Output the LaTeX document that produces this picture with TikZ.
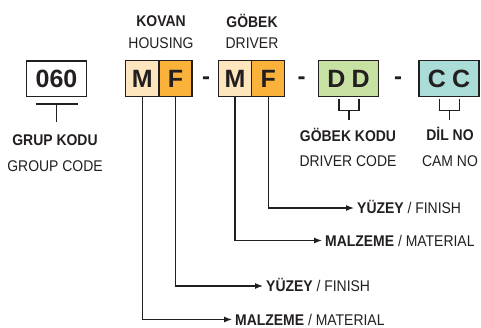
\documentclass[tikz,border=0pt]{standalone}
\usepackage{fontspec}
\setmainfont{Liberation Sans}[FakeStretch=0.9]
\newfontfamily\boxfont{Liberation Sans}
\usetikzlibrary{arrows.meta,calc}
\definecolor{lightor}{HTML}{FDE6BE}
\definecolor{darkor}{HTML}{FBB23A}
\definecolor{lgreen}{HTML}{C7E1A2}
\definecolor{lteal}{HTML}{AADCD8}
\definecolor{ink}{HTML}{231F20}
\begin{document}
\begin{tikzpicture}[x=1pt,y=-1pt,
  codebox/.style={draw=ink,line width=1.1pt,minimum height=35.5pt,inner sep=0pt,
     font=\boxfont\fontsize{25}{27}\selectfont\bfseries,text=ink},
  dashsym/.style={font=\boxfont\fontsize{24}{26}\selectfont\bfseries,text=ink,inner sep=0pt},
  lbl/.style={font=\fontsize{15.5}{17}\selectfont,text=ink,inner sep=0pt},
  blbl/.style={font=\fontsize{15.5}{17}\selectfont\bfseries,text=ink,inner sep=0pt},
  outlbl/.style={font=\fontsize{15.5}{17}\selectfont,text=ink,inner sep=0pt,anchor=base west},
  conn/.style={draw=ink,line width=1.1pt},
  arr/.style={conn,-{Latex[length=8pt,width=6pt]}}
]
\useasboundingbox (0,0) rectangle (481,327);
% boxes
\node[codebox,fill=white,minimum width=59.6pt] (grp) at (56.5,78.7) {060};
\node[codebox,fill=lightor,minimum width=33.3pt] (m1) at (142.3,78.5) {M};
\node[codebox,fill=darkor,minimum width=33pt] (f1) at (175.5,78.5) {F};
\node[dashsym] (d1) at (206,81) {-};
\node[codebox,fill=lightor,minimum width=33.5pt] (m2) at (235,78.5) {M};
\node[codebox,fill=darkor,minimum width=33pt] (f2) at (268.2,78.5) {F};
\node[dashsym] (d2) at (301.7,81) {-};
\node[codebox,fill=lgreen,minimum width=59.6pt] (dd) at (348.5,78.5) {D\hspace{6pt}D};
\node[dashsym] (d3) at (398,81) {-};
\node[codebox,fill=lteal,minimum width=60pt] (cc) at (449,78.5) {C\hspace{6pt}C};
% top labels
\node[blbl] (kovan) at (161,21) {KOVAN};
\node[lbl] (housing) at (161,43) {HOUSING};
\node[blbl] (gobek) at (252,21) {GÖBEK};
\node[lbl] (driver) at (252,43) {DRIVER};
% bottom labels
\node[blbl] (grk) at (55,140) {GRUP KODU};
\node[lbl] (grc) at (55,166) {GROUP CODE};
\node[blbl] (gbk) at (348,135) {GÖBEK KODU};
\node[lbl] (drc) at (348,161) {DRIVER CODE};
\node[blbl] (dil) at (450,134) {DİL NO};
\node[lbl] (cam) at (450,161) {CAM NO};
% brackets
\coordinate (g1) at ($(grp.south)+(-21,7)$);
\coordinate (g2) at ($(grp.south)+(21,7)$);
\coordinate (g3) at ($(grp.south)+(0,7)$);
\draw[conn] (g1) -- (g2);
\draw[conn] (g3) -- ($(g3)+(0,17.5)$);
\coordinate (b1) at ($(dd.south)+(-9.5,2)$);
\coordinate (b2) at ($(dd.south)+(10.5,2)$);
\draw[conn] (b1) -- ++(0,12) -- ($(b2)+(0,12)$) -- (b2);
\draw[conn] ($(dd.south)+(0.5,14)$) -- ++(0,9);
\coordinate (c1) at ($(cc.south)+(-9.7,2)$);
\coordinate (c2) at ($(cc.south)+(10.3,2)$);
\draw[conn] (c1) -- ++(0,12) -- ($(c2)+(0,12)$) -- (c2);
\draw[conn] ($(cc.south)+(0.3,14)$) -- ++(0,9);
% output labels (base line = arrow y + half cap height)
\node[outlbl] (o1) at (357,213.5) {\textbf{YÜZEY} / FINISH};
\node[outlbl] (o2) at (325,246) {\textbf{MALZEME} / MATERIAL};
\node[outlbl] (o3) at (266,291.5) {\textbf{YÜZEY} / FINISH};
\node[outlbl] (o4) at (235,325) {\textbf{MALZEME} / MATERIAL};
\coordinate (e1) at ($(o1.base west)+(-3,-5.5)$);
\coordinate (e2) at ($(o2.base west)+(-3,-5.5)$);
\coordinate (e3) at ($(o3.base west)+(-3,-5.5)$);
\coordinate (e4) at ($(o4.base west)+(-3,-5.5)$);
\draw[arr] (f2.south) |- (e1);
\draw[arr] (m2.south) |- (e2);
\draw[arr] (f1.south) |- (e3);
\draw[arr] (m1.south) |- (e4);
\end{tikzpicture}
\end{document}
